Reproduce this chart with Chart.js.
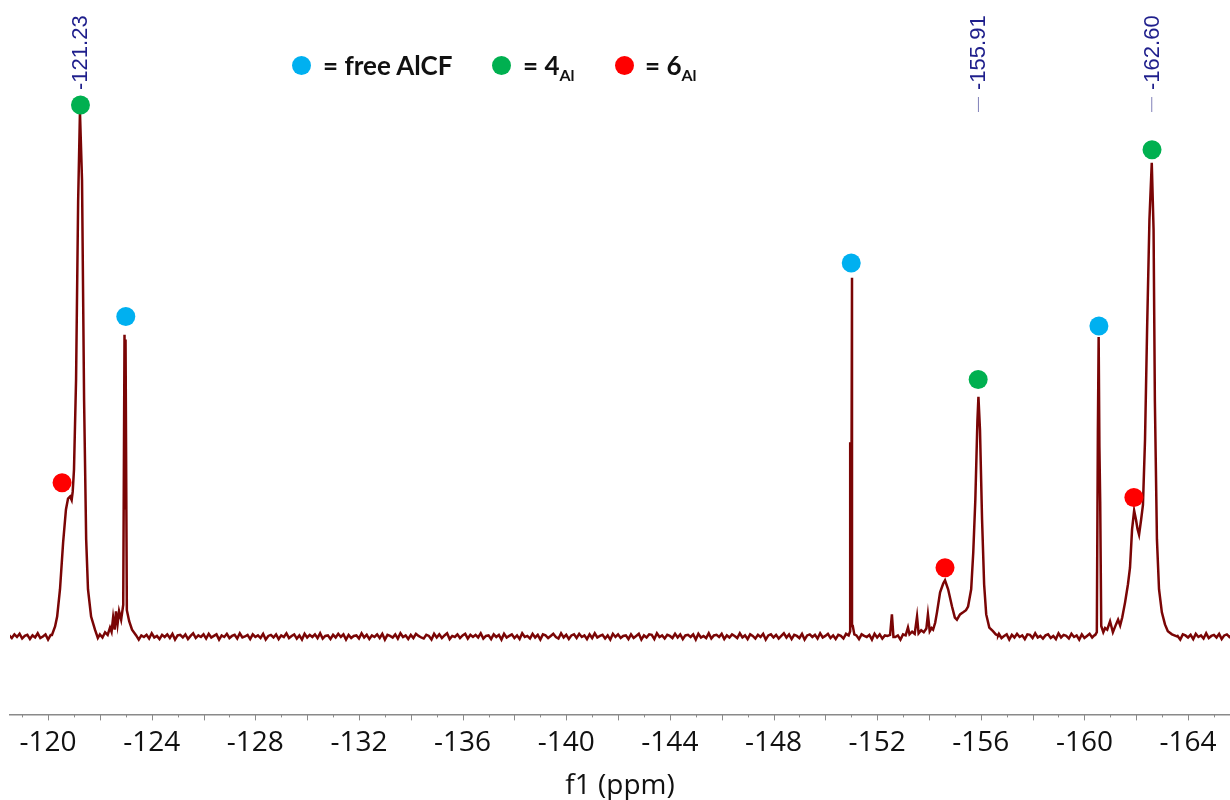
<!DOCTYPE html>
<html>
<head>
<meta charset="utf-8">
<script src="https://cdn.jsdelivr.net/npm/chart.js@4.4.1/dist/chart.umd.min.js"></script>
<style>
  html, body { margin: 0; padding: 0; background: #fff; overflow: hidden; }
  #wrap { position: relative; width: 1230px; height: 800px; }
  #nmr { display: block; }
  #legend { position: absolute; left: 0; top: 0; font-family: Lato, "Open Sans", sans-serif; font-weight: 700; font-size: 26px; color: #111; }
  .dot { position: absolute; width: 19px; height: 19px; border-radius: 50%; }
  .txt { position: absolute; white-space: nowrap; line-height: 26px; }
  .sub { font-size: 16px; vertical-align: -6px; }
</style>
</head>
<body>
<div id="wrap">
  <canvas id="nmr" width="1230" height="800"></canvas>
  <div id="legend">
    <span class="dot" style="left:292px;top:56px;background:#00b0f0"></span>
    <span class="txt" style="left:323px;top:52px">= free AlCF</span>
    <span class="dot" style="left:492px;top:56px;background:#00b050"></span>
    <span class="txt" style="left:523px;top:52px">= 4<span class="sub">Al</span></span>
    <span class="dot" style="left:615px;top:56px;background:#ff0000"></span>
    <span class="txt" style="left:645px;top:52px">= 6<span class="sub">Al</span></span>
  </div>
</div>
<script>
// ---------------- data ----------------
const axisLabels = [-120, -124, -128, -132, -136, -140, -144, -148, -152, -156, -160, -164];
const peakLabels = [-121.23, -155.91, -162.60];

// signal points (ppm / intensity, tallest peak = 100)
const signalPpm = [
  -120.15, -120.27, -120.35, -120.46, -120.58, -120.69, -120.77, -120.85, -120.91, -120.95,
  -121.0, -121.08, -121.16, -121.23, -121.31, -121.39, -121.47, -121.54, -121.66, -121.81,
  -121.92, -122.0, -122.1, -122.2, -122.3, -122.39, -122.45, -122.51, -122.57, -122.62,
  -122.68, -122.74, -122.82, -122.9, -122.95, -122.97, -122.99, -123.04, -123.13, -123.24, -123.4,
  -150.9, -150.96, -150.99, -151.01, -151.03, -151.06, -151.12,
  -152.5, -152.57, -152.63,
  -153.1, -153.19, -153.25, -153.35, -153.45, -153.54, -153.6, -153.7, -153.8, -153.9,
  -153.96, -154.03, -154.1, -154.16, -154.24, -154.31, -154.43, -154.55, -154.62, -154.74,
  -154.89, -155.0, -155.08, -155.2, -155.32, -155.43, -155.51, -155.63, -155.71, -155.79,
  -155.87, -155.91, -155.97, -156.05, -156.13, -156.21, -156.33, -156.47, -156.58, -156.67,
  -160.42, -160.48, -160.52, -160.55, -160.58, -160.61, -160.65, -160.73, -160.8, -160.88,
  -160.99, -161.1, -161.22, -161.3, -161.38, -161.46, -161.57, -161.68, -161.76, -161.84,
  -161.92, -161.99, -162.05, -162.11, -162.19, -162.26, -162.34, -162.42, -162.51, -162.6,
  -162.67, -162.72, -162.8, -162.88, -162.99, -163.11, -163.22, -163.38, -163.57
];
const signalHeight = [
  0.3, 1.9, 3.8, 9, 17.9, 24.2, 26.3, 26.7, 26.0, 27.6,
  31.8, 49, 83, 100, 87, 45, 18.5, 9, 3.8, 1.3,
  -0.3, 0.4, -0.2, 0.8, 0.3, 1.7, 0.9, 3.6, 1.3, 4.8,
  2.3, 4.8, 3.2, 6, 57.5, 24.2, 56.6, 5, 2.9, 1.3, 0.2,
  0.2, 1, 37, 30, 68.4, 2, 0.4,
  0.3, 4.2, -0.1,
  0.2, 1.7, 0.4, 0.9, 0.5, 3.8, 0.6, 1.2, 0.8, 1.5,
  4.2, 1.0, 1.6, 1.3, 2.6, 4.6, 8.4, 10.1, 10.7, 9,
  5.7, 3.6, 3.2, 4.2, 4.6, 5, 5.7, 9, 16, 26,
  41, 45.7, 39.4, 22.3, 9.9, 4.2, 1.7, 1, 0.4, 0.2,
  0.3, 0.8, 39, 57.1, 36, 25.7, 2, 0.8, 1.6, 1.3,
  2.9, 0.8, 2.3, 3.2, 2.1, 3.6, 6.5, 9.9, 13.1, 20.4,
  24, 22.3, 20.5, 19.4, 22.3, 25.1, 37.5, 58.5, 79.4, 90.3,
  77.5, 45, 18.5, 9, 4.6, 2.3, 1, 0.4, 0
];

// baseline noise, one value every 0.1 ppm from -118.5 ppm
const baselineStart = -118.5;
const baselineStep = 0.1;
const baselineNoise = [
  .2,-.3,.4,-.1,.5,-.4,.1,.3,-.5,.2,-.2,.6,-.3,0,.4,-.6,.3,-.1,.2,-.4,
  .5,-.2,.1,-.5,.3,.2,-.4,.6,-.1,-.3,.4,-.2,.1,.5,-.6,.2,-.3,.4,0,-.2,
  .3,-.5,.6,-.1,.2,-.4,.5,-.3,.1,.4,-.6,.2,-.1,.3,-.4,.6,-.2,.1,-.5,.3,
  -.1,.4,-.3,.5,-.6,.2,.3,-.2,.4,-.5,.1,.6,-.3,.2,-.1,.4,-.4,.5,-.2,.1,
  .4,-.6,.2,-.1,.5,-.3,.1,.3,-.4,.6,-.2,0,.3,-.5,.4,-.1,.2,-.3,.5,-.6,
  .1,.3,-.2,.4,-.5,.2,-.1,.6,-.3,.1,.4,-.4,.2,-.6,.5,-.2,.3,-.1,.4,-.3,
  .6,-.4,.1,.2,-.5,.3,-.2,.5,-.1,.4,-.6,.3,-.3,.1,.2,-.4,.6,-.2,.3,-.5,
  .2,-.1,.4,-.3,.5,-.6,.3,.1,-.2,.4,-.4,.6,-.1,.2,-.5,.3,-.3,.5,.1,-.2,
  -.4,.3,.1,-.6,.5,-.2,.4,-.3,.2,.6,-.5,.1,-.1,.4,-.3,.2,.5,-.4,.3,-.1,
  .3,-.2,.6,-.4,.1,.2,-.5,.4,-.1,.3,-.6,.5,-.2,.1,.4,-.3,.2,-.5,.6,-.1,
  .1,-.4,.5,-.2,.3,-.6,.4,.2,-.3,.1,.5,-.1,-.4,.6,-.2,.3,-.5,.2,.4,-.3,
  .5,-.1,.2,-.5,.4,-.3,.6,-.2,.1,.3,-.4,.2,-.6,.5,-.1,.4,-.3,.1,.2,-.5,
  .4,-.3,.1,.5,-.6,.2,-.2,.4,.3,-.5,.6,-.1,.2,-.4,.3,.1,-.3,.5,-.2,.4,
  -.5,.2,.3,-.1,.4,-.6,.5,-.2,.1,-.3,.6,-.4,.2,.3,-.1,.5,-.5,.2,-.2,.4,
  .1,-.3,.6,-.2,.2,-.5,.4,.1,-.4,.3,-.1,.5,-.6,.2,.4,-.2,.3,-.4,.1,.6,
  -.2,.4,-.5,.3,.1,-.3,.5,-.6,.2,.4,-.1,.3,-.4,.6,-.2,.1,.5,-.3,.2,-.5,
  .3,.1,-.4,.5,-.2,.6,-.3,.2,-.5,.4,.1,-.1,.3,-.6,.5,-.2,.4,-.4,.2,.1,
  -.3,.5,-.1,.2,-.6,.4,.3,-.2,.1,-.5,.6,-.3,.2,.4,-.4,.1,-.1,.5,-.2,.3,
  .6,-.5,.2,.1,-.3,.4,-.1,.5,-.6,.3,.2,-.4,.4,-.2,.1,.6,-.5,.3,-.1,.2,
  -.4,.2,.5,-.3,.1,.4,-.6,.3,-.2,.5,-.1,.2,-.5,.4,.3,-.3,.6,-.2,.1,-.4,
  .2,.4,-.3,.1,-.5,.6,-.2,.3,.1,-.4,.5,-.1,.2,-.6,.4,-.3,.1,.5,-.2,.3,
  -.1,.3,-.4,.6,-.2,.2,-.5,.4,.1,-.3,.5,-.6,.3,.2,-.1,.4,-.4,.1,.6,-.3,
  .4,-.2,.1,-.5,.3,.5,-.3,.2,-.4,.6,-.1,.1,-.6,.4,.2,-.2,.3,-.5,.5,-.1,
  .2,-.4,.6,-.3,.1,.3,-.2,.5,-.5,.2,.4,-.1,.3,-.4,.6,-.2,.1,-.3,.5,-.4
];

// peak markers
const freeAlcfPpm = [-123.0, -151.0, -160.56];
const freeAlcfHeight = [61, 71.2, 59.2];
const fourAlPpm = [-121.25, -155.9, -162.61];
const fourAlHeight = [101.3, 49, 92.8];
const sixAlPpm = [-120.54, -154.62, -161.91];
const sixAlHeight = [29.3, 13.1, 26.5];

// ---------------- build spectrum ----------------
const clusters = [];
signalPpm.forEach((p) => {
    const last = clusters[clusters.length - 1];
    if (last && Math.abs(p - last.end) < 0.25) last.end = p;
    else clusters.push({start: p, end: p});
});
const spectrum = [];
baselineNoise.forEach((v, i) => {
    const p = baselineStart - i * baselineStep;
    if (!clusters.some(c => p <= c.start && p >= c.end)) spectrum.push({x: p, y: v});
});
signalPpm.forEach((p, i) => spectrum.push({x: p, y: signalHeight[i]}));
spectrum.sort((a, b) => a.x - b.x);

function toPoints(ppm, h) {
    return ppm.map((p, i) => ({x: p, y: h[i]}));
}

//------------------------- ticks and peak labels ---------------//
const nmrDecor = {
    id: 'nmrDecor',
    beforeDatasetsDraw(chart) {
        const {ctx, scales: {x}} = chart;
        ctx.save();
        peakLabels.forEach((v) => {
            const px = x.getPixelForValue(v);
            ctx.strokeStyle = '#8080b8';
            ctx.lineWidth = 1;
            ctx.beginPath();
            ctx.moveTo(px, 97);
            ctx.lineTo(px, 112);
            ctx.stroke();
            ctx.translate(px, 90);
            ctx.rotate(-Math.PI / 2);
            ctx.fillStyle = '#1f1f8c';
            ctx.font = '22px "Liberation Sans", Arial, sans-serif';
            ctx.textAlign = 'left';
            ctx.textBaseline = 'middle';
            ctx.fillText(v.toFixed(2), 0, 1);
            ctx.setTransform(1, 0, 0, 1, 0, 0);
        });
        ctx.restore();
    },
    afterDraw(chart) {
        const {ctx, scales: {x}} = chart;
        ctx.save();
        ctx.strokeStyle = '#8a8a8a';
        ctx.lineWidth = 1;
        for (let v = Math.ceil(x.min); v <= Math.floor(x.max); v++) {
            const px = Math.round(x.getPixelForValue(v)) + 0.5;
            const len = v % 2 === 0 ? 6 : 3;
            ctx.beginPath();
            ctx.moveTo(px, x.top);
            ctx.lineTo(px, x.top + len);
            ctx.stroke();
        }
        ctx.restore();
    }
};

new Chart(document.getElementById('nmr'), {
    type: 'scatter',
    data: {
        datasets: [
            {label: 'free AlCF', data: toPoints(freeAlcfPpm, freeAlcfHeight), pointRadius: 9.5, pointBorderWidth: 0, backgroundColor: '#00b0f0', order: 0},
            {label: '4Al', data: toPoints(fourAlPpm, fourAlHeight), pointRadius: 9.5, pointBorderWidth: 0, backgroundColor: '#00b050', order: 0},
            {label: '6Al', data: toPoints(sixAlPpm, sixAlHeight), pointRadius: 9.5, pointBorderWidth: 0, backgroundColor: '#ff0000', order: 0},
            {label: 'spectrum', data: spectrum, showLine: true, pointRadius: 0, borderColor: '#7a0505', borderWidth: 2.5, order: 1}
        ]
    },
    options: {
        responsive: false,
        animation: false,
        layout: {autoPadding: false, padding: {left: 10, right: 0, top: 7, bottom: 0}},
        plugins: {legend: {display: false}, tooltip: {enabled: false}},
        scales: {
            x: {
                type: 'linear',
                reverse: true,
                min: -165.62,
                max: -118.53,
                afterBuildTicks: (axis) => { axis.ticks = axisLabels.map(v => ({value: v})); },
                ticks: {
                    autoSkip: false,
                    maxRotation: 0,
                    padding: 12,
                    color: '#111',
                    font: {family: '"Open Sans", sans-serif', size: 28},
                    callback: (v) => String(v)
                },
                grid: {display: false, drawTicks: false},
                border: {display: true, color: '#8a8a8a', width: 1.5},
                title: {
                    display: true,
                    text: 'f1 (ppm)',
                    color: '#111',
                    font: {family: '"Open Sans", sans-serif', size: 28, lineHeight: 1},
                    padding: {top: 0, bottom: 0}
                }
            },
            y: {display: false, min: -14.86, max: 120}
        }
    },
    plugins: [nmrDecor]
});
</script>
</body>
</html>
